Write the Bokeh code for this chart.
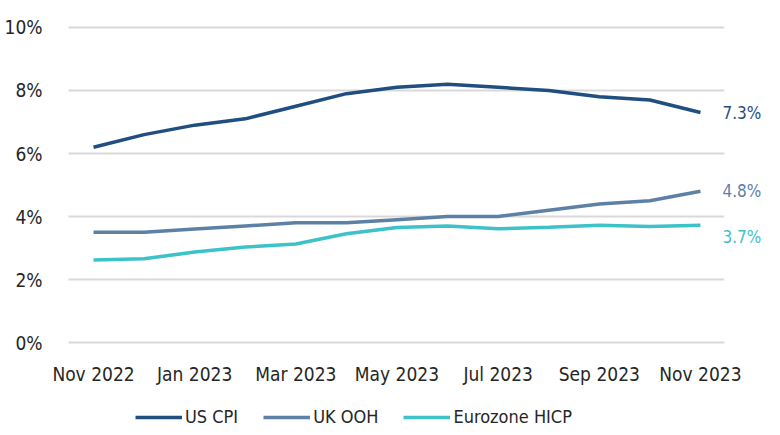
from bokeh.plotting import figure
from bokeh.models import (Range1d, FixedTicker, Label, Legend, LegendItem,
                          ColumnDataSource)
from bokeh.embed import file_html
from bokeh.resources import INLINE

months = ["Nov 2022", "Dec 2022", "Jan 2023", "Feb 2023", "Mar 2023", "Apr 2023",
          "May 2023", "Jun 2023", "Jul 2023", "Aug 2023", "Sep 2023", "Oct 2023", "Nov 2023"]
us_cpi = [6.2, 6.6, 6.9, 7.1, 7.5, 7.9, 8.1, 8.2, 8.1, 8.0, 7.8, 7.7, 7.3]
uk_ooh = [3.5, 3.5, 3.6, 3.7, 3.8, 3.8, 3.9, 4.0, 4.0, 4.2, 4.4, 4.5, 4.8]
ez_hicp = [2.62, 2.66, 2.87, 3.03, 3.13, 3.45, 3.65, 3.7, 3.61, 3.66, 3.72, 3.68, 3.72]
series_names = ["US CPI", "UK OOH", "Eurozone HICP"]
colors = ["#1f4e7f", "#5d80a6", "#3ec2c9"]
y_ticks = [0, 2, 4, 6, 8, 10]

FONT = "DejaVu Sans Condensed"
TXT = "#262626"
idx = list(range(len(months)))
x_lo, x_hi = -0.494, 12.47          # plotting-area extent (months)

p = figure(width=772, height=427, output_backend="svg", toolbar_location=None,
           x_range=Range1d(-1.839, 13.424), y_range=Range1d(-2.698, 10.857),
           min_border_left=0, min_border_right=0, min_border_top=0,
           min_border_bottom=0)
p.outline_line_color = None
p.background_fill_color = "white"

# horizontal gridlines limited to plotting area
p.segment(x0=[x_lo] * len(y_ticks), x1=[x_hi] * len(y_ticks), y0=y_ticks, y1=y_ticks,
          line_color="#d9d9d9", line_width=2)
p.xgrid.grid_line_color = None
p.ygrid.grid_line_color = None

renderers = []
for name, vals, c in zip(series_names, [us_cpi, uk_ooh, ez_hicp], colors):
    src = ColumnDataSource(dict(x=idx, y=vals))
    r = p.line("x", "y", source=src, line_color=c, line_width=3.5)
    renderers.append(r)

# end labels
offsets = [0, 0, -12]
for vals, c, off in zip([us_cpi, uk_ooh, ez_hicp], colors, offsets):
    p.add_layout(Label(x=idx[-1], y=vals[-1], text=f"{vals[-1]:.1f}%",
                       x_offset=22, y_offset=off, text_baseline="middle",
                       text_color=c, text_font=FONT, text_font_size="17px"))

# axes drawn at fixed positions inside the frame
p.xaxis.fixed_location = 0
p.yaxis.fixed_location = x_lo
p.xaxis.ticker = FixedTicker(ticks=idx[::2])
p.xaxis.major_label_overrides = {i: months[i] for i in idx[::2]}
p.yaxis.ticker = FixedTicker(ticks=y_ticks)
p.yaxis.major_label_overrides = {t: f"{t}%" for t in y_ticks}
for ax in (p.xaxis[0], p.yaxis[0]):
    ax.axis_line_color = None
    ax.major_tick_line_color = None
    ax.minor_tick_line_color = None
    ax.major_label_text_font = FONT
    ax.major_label_text_font_size = "19px"
    ax.major_label_text_color = TXT
p.xaxis.major_label_standoff = 14
p.yaxis.major_label_standoff = 20

legend = Legend(items=[LegendItem(label=n, renderers=[r]) for n, r in zip(series_names, renderers)],
                orientation="horizontal", location=(135, 0),
                label_text_font=FONT, label_text_font_size="18px", label_text_color=TXT,
                glyph_width=47, glyph_height=16, label_standoff=3, spacing=25,
                border_line_color=None, background_fill_alpha=0, padding=0, margin=0)
p.add_layout(legend)

open("out.html", "w").write(file_html(p, INLINE))
